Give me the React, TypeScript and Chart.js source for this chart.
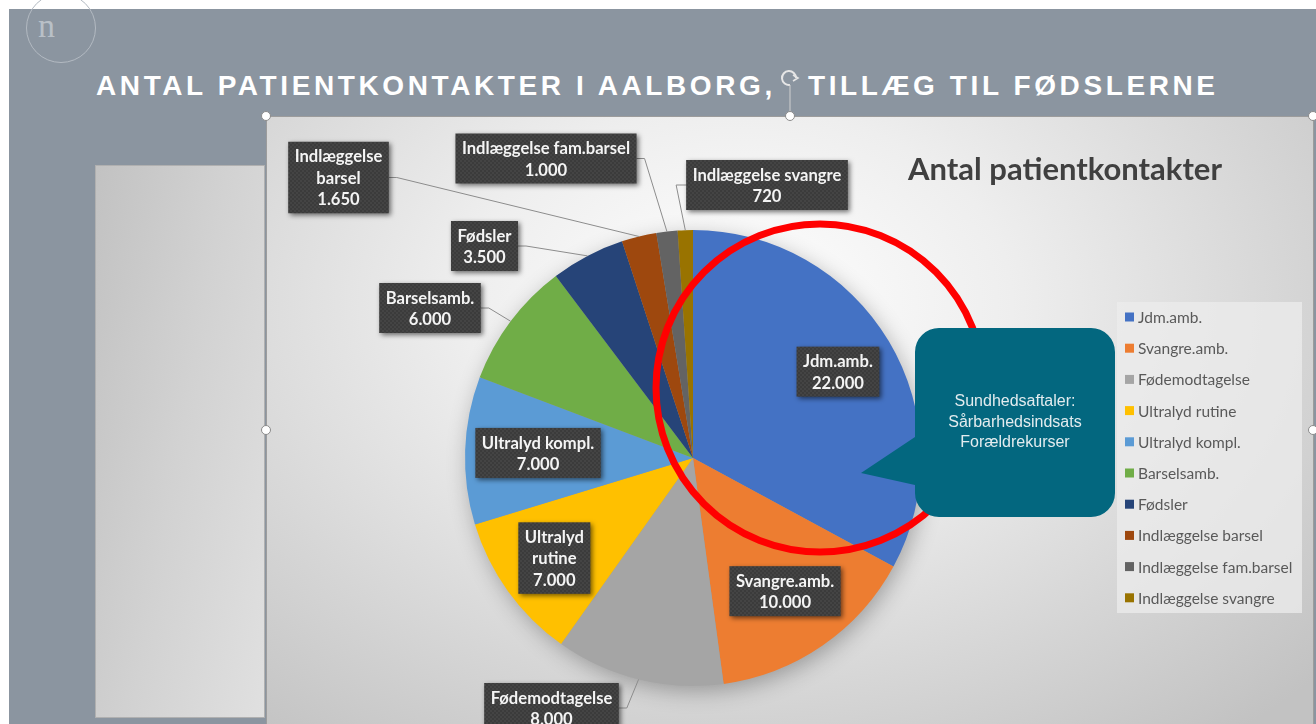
import React, { useEffect, useRef } from "react";
import { Chart, registerables } from "chart.js";
Chart.register(...registerables);

// ---------- data ----------
const categories = [
  "Jdm.amb.",
  "Svangre.amb.",
  "Fødemodtagelse",
  "Ultralyd rutine",
  "Ultralyd kompl.",
  "Barselsamb.",
  "Fødsler",
  "Indlæggelse barsel",
  "Indlæggelse fam.barsel",
  "Indlæggelse svangre",
];
const values = [22000, 10000, 8000, 7000, 7000, 6000, 3500, 1650, 1000, 720];
const colors = [
  "#4472C4",
  "#ED7D31",
  "#A5A5A5",
  "#FFC000",
  "#5B9BD5",
  "#70AD47",
  "#264478",
  "#9E480E",
  "#636363",
  "#997300",
];
const slideTitleLeft = "ANTAL PATIENTKONTAKTER I AALBORG,";
const slideTitleRight = "TILLÆG TIL FØDSLERNE";
const chartTitle = "Antal patientkontakter";
const calloutLines = ["Sundhedsaftaler:", "Sårbarhedsindsats", "Forældrekurser"];

// ---------- label layout (positions only) ----------
type LabelPos = { inside?: boolean; r?: number; dx?: number; dy?: number; wrap?: boolean };
const labelLayout: LabelPos[] = [
  { inside: true, r: 0.74 },
  { inside: true, r: 0.71 },
  { dx: -141.5, dy: 250 },
  { inside: true, r: 0.75, wrap: true },
  { inside: true, r: 0.68 },
  { dx: -263, dy: -150 },
  { dx: -208.5, dy: -212 },
  { dx: -354.5, dy: -280.5, wrap: true },
  { dx: -147, dy: -299.5 },
  { dx: 74, dy: -273 },
];

const fmt = (v: number) => String(v).replace(/\B(?=(\d{3})+(?!\d))/g, ".");

function makePattern(ctx: CanvasRenderingContext2D) {
  const c = document.createElement("canvas");
  c.width = 4;
  c.height = 4;
  const g = c.getContext("2d")!;
  g.fillStyle = "#3b3b3b";
  g.fillRect(0, 0, 4, 4);
  g.fillStyle = "#444444";
  g.fillRect(0, 0, 2, 2);
  g.fillRect(2, 2, 2, 2);
  return ctx.createPattern(c, "repeat");
}

const overlayPlugin = {
  id: "overlay",
  beforeDatasetsDraw(chart: any) {
    const meta = chart.getDatasetMeta(0);
    const a = meta.data[0];
    if (!a) return;
    const ctx = chart.ctx as CanvasRenderingContext2D;
    ctx.save();
    ctx.shadowColor = "rgba(0,0,0,0.3)";
    ctx.shadowBlur = 22;
    ctx.shadowOffsetX = 3;
    ctx.shadowOffsetY = 6;
    ctx.fillStyle = "#999";
    ctx.beginPath();
    ctx.arc(a.x, a.y, a.outerRadius - 1, 0, Math.PI * 2);
    ctx.fill();
    ctx.restore();
  },
  afterDraw(chart: any) {
    const ctx = chart.ctx as CanvasRenderingContext2D;
    const meta = chart.getDatasetMeta(0);
    const arcs = meta.data;
    const cx0 = arcs[0].x;
    const cy0 = arcs[0].y;
    const R = arcs[0].outerRadius;

    // chart title
    ctx.save();
    ctx.fillStyle = "#404040";
    ctx.font = "bold 31px Lato";
    ctx.textAlign = "center";
    ctx.textBaseline = "middle";
    ctx.fillText(chartTitle, 1065, 170);
    ctx.restore();

    // red circle
    ctx.save();
    ctx.strokeStyle = "#ff0000";
    ctx.lineWidth = 7;
    ctx.beginPath();
    ctx.arc(cx0 + 127, cy0 - 70, 164, 0, Math.PI * 2);
    ctx.stroke();
    ctx.restore();

    // callout
    ctx.save();
    ctx.fillStyle = "#03677f";
    const bx = 915, by = 328, bw = 200, bh = 189, br = 24;
    ctx.beginPath();
    ctx.moveTo(bx + br, by);
    ctx.lineTo(bx + bw - br, by);
    ctx.arcTo(bx + bw, by, bx + bw, by + br, br);
    ctx.lineTo(bx + bw, by + bh - br);
    ctx.arcTo(bx + bw, by + bh, bx + bw - br, by + bh, br);
    ctx.lineTo(bx + br, by + bh);
    ctx.arcTo(bx, by + bh, bx, by + bh - br, br);
    ctx.lineTo(bx, 485);
    ctx.lineTo(861, 473);
    ctx.lineTo(bx, 437);
    ctx.lineTo(bx, by + br);
    ctx.arcTo(bx, by, bx + br, by, br);
    ctx.closePath();
    ctx.fill();
    ctx.fillStyle = "#e3ecef";
    ctx.font = "16px 'Liberation Sans', Arial";
    ctx.textAlign = "center";
    ctx.textBaseline = "middle";
    calloutLines.forEach((t, i) => ctx.fillText(t, 1015, 402 + i * 20.5));
    ctx.restore();

    // legend
    ctx.save();
    ctx.fillStyle = "rgba(236,236,236,0.75)";
    ctx.fillRect(1117, 302, 185, 311);
    ctx.font = "15.5px Lato";
    ctx.textBaseline = "middle";
    ctx.textAlign = "left";
    const labels = chart.data.labels as string[];
    const bgs = chart.data.datasets[0].backgroundColor as string[];
    labels.forEach((l, i) => {
      const y = 317 + i * 31.2;
      ctx.fillStyle = bgs[i];
      ctx.fillRect(1125, y - 4.5, 9, 9);
      ctx.fillStyle = "#595959";
      ctx.fillText(l, 1138, y + 1);
    });
    ctx.restore();

    // data labels
    const pattern = makePattern(ctx);
    const data = chart.data.datasets[0].data as number[];
    ctx.save();
    ctx.font = "bold 16.6px Lato";
    const lineH = 21.5;
    arcs.forEach((arc: any, i: number) => {
      const lay = labelLayout[i];
      const name = labels[i];
      const lines = (lay.wrap ? name.split(" ") : [name]).concat([fmt(data[i])]);
      const w = Math.max(...lines.map((t) => ctx.measureText(t).width)) + 13;
      const h = lines.length * lineH + 7;
      const mid = (arc.startAngle + arc.endAngle) / 2;
      let cx: number, cy: number;
      if (lay.inside) {
        cx = arc.x + Math.cos(mid) * R * (lay.r || 0.7);
        cy = arc.y + Math.sin(mid) * R * (lay.r || 0.7);
      } else {
        cx = arc.x + (lay.dx || 0);
        cy = arc.y + (lay.dy || 0);
        // leader line
        const px = arc.x + Math.cos(mid) * arc.outerRadius;
        const py = arc.y + Math.sin(mid) * arc.outerRadius;
        ctx.save();
        ctx.strokeStyle = "#8c8c8c";
        ctx.lineWidth = 1;
        ctx.beginPath();
        if (px > cx + w / 2) {
          ctx.moveTo(cx + w / 2, cy);
          ctx.lineTo(cx + w / 2 + 8, cy);
        } else {
          ctx.moveTo(cx - w / 2, cy);
          ctx.lineTo(cx - w / 2 - 10, cy);
        }
        ctx.lineTo(px, py);
        ctx.stroke();
        ctx.restore();
      }
      const x0 = cx - w / 2;
      const y0 = cy - h / 2;
      ctx.save();
      ctx.shadowColor = "rgba(0,0,0,0.55)";
      ctx.shadowBlur = 5;
      ctx.shadowOffsetX = 2;
      ctx.shadowOffsetY = 2;
      ctx.fillStyle = pattern || "#3b3b3b";
      ctx.fillRect(x0, y0, w, h);
      ctx.restore();
      ctx.fillStyle = "#f4f4f4";
      ctx.textAlign = "center";
      ctx.textBaseline = "middle";
      lines.forEach((t, k) => ctx.fillText(t, cx, y0 + 3.5 + lineH * (k + 0.5) + 1));
    });
    ctx.restore();
  },
};

function Handle({ x, y }: { x: number; y: number }) {
  return (
    <div
      style={{
        position: "absolute",
        left: x - 5,
        top: y - 5,
        width: 8,
        height: 8,
        borderRadius: "50%",
        background: "#fff",
        border: "1px solid #8a8a8a",
        zIndex: 5,
      }}
    />
  );
}

const titleStyle: React.CSSProperties = {
  position: "absolute",
  top: 71,
  fontFamily: "'Liberation Sans', Arial, sans-serif",
  fontWeight: "bold",
  fontSize: 28,
  lineHeight: "30px",
  letterSpacing: 3.6,
  color: "#ffffff",
  whiteSpace: "nowrap",
};

export default function App() {
  const ref = useRef<HTMLCanvasElement | null>(null);
  useEffect(() => {
    if (!ref.current) return;
    const chart = new Chart(ref.current, {
      type: "pie",
      data: {
        labels: categories,
        datasets: [
          {
            data: values,
            backgroundColor: colors,
            borderWidth: 0,
            hoverOffset: 0,
            offset: 0,
          },
        ],
      },
      options: {
        responsive: false,
        animation: false,
        events: [],
        layout: { padding: { left: 465, right: 395, top: 230, bottom: 38 } },
        plugins: {
          legend: { display: false },
          tooltip: { enabled: false },
          title: { display: false },
        },
      },
      plugins: [overlayPlugin],
    } as any);
    return () => chart.destroy();
  }, []);

  return (
    <div
      style={{
        position: "fixed",
        left: 0,
        top: 0,
        width: 1316,
        height: 724,
        overflow: "hidden",
        background: "#ffffff",
      }}
    >
      {/* slide */}
      <div style={{ position: "absolute", left: 9, top: 9, width: 1307, height: 715, background: "#8b95a0" }} />
      {/* logo */}
      <div
        style={{
          position: "absolute",
          left: 26,
          top: -7,
          width: 68,
          height: 68,
          borderRadius: "50%",
          border: "1.5px solid #b3bac2",
        }}
      />
      <div
        style={{
          position: "absolute",
          left: 38,
          top: 10,
          fontFamily: "'Liberation Serif', 'DejaVu Serif', serif",
          fontSize: 34,
          lineHeight: "32px",
          color: "#b9c0c7",
        }}
      >
        n
      </div>
      {/* slide title */}
      <div style={{ ...titleStyle, left: 96 }}>{slideTitleLeft}</div>
      <div style={{ ...titleStyle, left: 808 }}>{slideTitleRight}</div>
      {/* rotate handle */}
      <svg style={{ position: "absolute", left: 776, top: 66, zIndex: 5 }} width={30} height={50}>
        <path d="M 20 12 A 7 7 0 1 0 14 19" fill="none" stroke="#e6e6e6" strokeWidth={2} />
        <path d="M 17 9 L 22 12 L 17 15" fill="none" stroke="#e6e6e6" strokeWidth={1.6} />
        <line x1={14} y1={19} x2={14} y2={46} stroke="#d0d0d0" strokeWidth={1} />
      </svg>
      {/* left panel */}
      <div
        style={{
          position: "absolute",
          left: 95,
          top: 165,
          width: 170,
          height: 553,
          background: "linear-gradient(100deg, #c2c2c2 0%, #d2d2d2 50%, #e0e0e0 100%)",
          border: "1px solid #b0b0b0",
          boxSizing: "border-box",
        }}
      />
      {/* chart area */}
      <div
        style={{
          position: "absolute",
          left: 266,
          top: 116,
          width: 1048,
          height: 620,
          background:
            "radial-gradient(ellipse 75% 90% at 45% 30%, #ffffff 0%, #eeeeee 35%, #d6d6d6 70%, #c2c2c2 100%)",
          border: "1px solid #9c9c9c",
          boxSizing: "border-box",
        }}
      />
      <canvas
        ref={ref}
        width={1316}
        height={724}
        style={{ position: "absolute", left: 0, top: 0, width: 1316, height: 724, display: "block", zIndex: 2 }}
      />
      <Handle x={266} y={116} />
      <Handle x={790} y={116} />
      <Handle x={1313} y={116} />
      <Handle x={266} y={430} />
      <Handle x={1313} y={430} />
    </div>
  );
}
